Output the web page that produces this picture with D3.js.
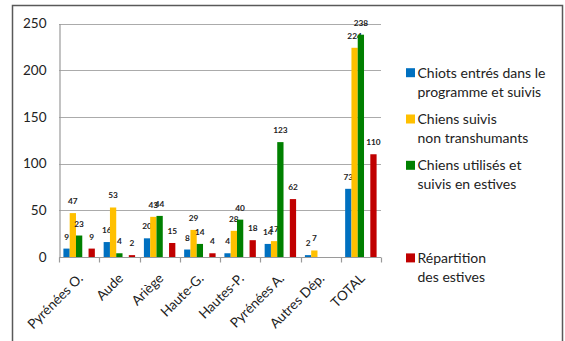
<!DOCTYPE html>
<html>
<head>
<meta charset="utf-8">
<script src="https://cdn.jsdelivr.net/npm/d3@7"></script>
<style>
  html, body { margin: 0; padding: 0; background: #fff; }
  svg { display: block; font-family: Lato, "Open Sans", sans-serif; }
</style>
</head>
<body>
<svg id="chart" width="565" height="341"></svg>
<script>
// Categories (départements) along the x axis
const categories = ["Pyrénées O.", "Aude", "Ariège", "Haute-G.", "Hautes-P.", "Pyrénées A.", "Autres Dép.", "TOTAL"];

// Series values per category (null = no value)
const chiots     = [9, 16, 20, 8, 4, 14, 2, 73];
const nonTransh  = [47, 53, 43, 29, 28, 17, 7, 224];
const estives    = [23, 4, 44, 14, 40, 123, null, 238];
const vide       = [null, null, null, null, null, null, null, null];
const repartition = [9, 2, 15, 4, 18, 62, null, 110];

const seriesNames = [
  ["Chiots entrés dans le", "programme et suivis"],
  ["Chiens suivis", "non transhumants"],
  ["Chiens utilisés et", "suivis en estives"],
  [],
  ["Répartition", "des estives"]
];
const seriesValues = [chiots, nonTransh, estives, vide, repartition];
const seriesColors = ["#0070C0", "#FFC000", "#008000", "none", "#C00000"];

const yTicks = [0, 50, 100, 150, 200, 250];

const svg = d3.select("#chart");

// Outer frame
svg.append("path")
  .attr("d", "M12.5,345 V5.5 H562.5 V345")
  .attr("fill", "none")
  .attr("stroke", "#595959")
  .attr("stroke-width", 1.5);

const plot = { left: 59, right: 381, top: 23.5, bottom: 257 };

const x0 = d3.scaleBand().domain(categories).range([plot.left, plot.right]).padding(0);
const x1 = d3.scaleBand().domain(d3.range(seriesValues.length))
  .range([0, x0.bandwidth()]).paddingInner(0).paddingOuter(0.7);
const y = d3.scaleLinear().domain([0, 250]).range([plot.bottom, plot.top]);

// Horizontal gridlines
svg.append("g").selectAll("line").data(yTicks.filter(t => t > 0)).join("line")
  .attr("x1", plot.left).attr("x2", plot.right)
  .attr("y1", d => Math.round(y(d)) + 0.5).attr("y2", d => Math.round(y(d)) + 0.5)
  .attr("stroke", "#ababab").attr("stroke-width", 1.2);

// Y axis
const yAxis = svg.append("g")
  .attr("transform", `translate(${plot.left + 0.5},0)`)
  .call(d3.axisLeft(y).tickValues(yTicks).tickSize(0).tickPadding(13));
yAxis.select(".domain").attr("stroke", "#9a9a9a").attr("stroke-width", 1.2);
yAxis.selectAll("text").attr("font-size", 13.5).attr("fill", "#222")
  .attr("font-family", "Lato, sans-serif");

// Bars
const groups = svg.append("g").selectAll("g").data(seriesValues).join("g")
  .attr("fill", (d, i) => seriesColors[i]);

groups.each(function(vals, si) {
  const g = d3.select(this);
  const data = categories.map((c, ci) => ({ c, v: vals[ci] })).filter(d => d.v != null);
  g.selectAll("rect").data(data).join("rect")
    .attr("x", d => x0(d.c) + x1(si))
    .attr("width", x1.bandwidth())
    .attr("y", d => y(d.v))
    .attr("height", d => y(0) - y(d.v));
  g.selectAll("text").data(data).join("text")
    .attr("x", d => x0(d.c) + x1(si) + x1.bandwidth() / 2)
    .attr("y", d => y(d.v) - 9)
    .attr("text-anchor", "middle")
    .attr("font-size", 8.3)
    .attr("font-weight", "bold")
    .attr("fill", "#222")
    .text(d => d.v);
});

// X axis
const xAxis = svg.append("g")
  .attr("transform", `translate(0,${plot.bottom + 0.5})`);
xAxis.append("line")
  .attr("x1", plot.left).attr("x2", plot.right)
  .attr("stroke", "#9a9a9a").attr("stroke-width", 1.2);
xAxis.selectAll(".tick").data(d3.range(categories.length + 1)).join("line")
  .attr("x1", i => Math.round(plot.left + i * x0.step()) + 0.5)
  .attr("x2", i => Math.round(plot.left + i * x0.step()) + 0.5)
  .attr("y1", 0).attr("y2", 5)
  .attr("stroke", "#9a9a9a").attr("stroke-width", 1.2);
xAxis.selectAll("text").data(categories).join("text")
  .attr("transform", d => `translate(${x0(d) + x0.bandwidth() / 2 - 2},${15}) rotate(-45)`)
  .attr("text-anchor", "end")
  .attr("dy", "0.7em")
  .attr("font-size", 13.5)
  .attr("fill", "#222")
  .text(d => d);

// Legend
const legend = svg.append("g").attr("transform", "translate(406,0)");
seriesNames.forEach((lines, i) => {
  if (!lines.length) return;
  const cy = 72.7 + i * 46.3;
  legend.append("rect")
    .attr("x", 0).attr("y", cy - 4.5).attr("width", 9).attr("height", 9)
    .attr("fill", seriesColors[i]);
  const t = legend.append("text")
    .attr("font-size", 14).attr("fill", "#222");
  lines.forEach((ln, k) => {
    t.append("tspan").attr("x", 11.5).attr("y", cy + k * 19).attr("dy", "0.35em").text(ln);
  });
});
</script>
</body>
</html>
